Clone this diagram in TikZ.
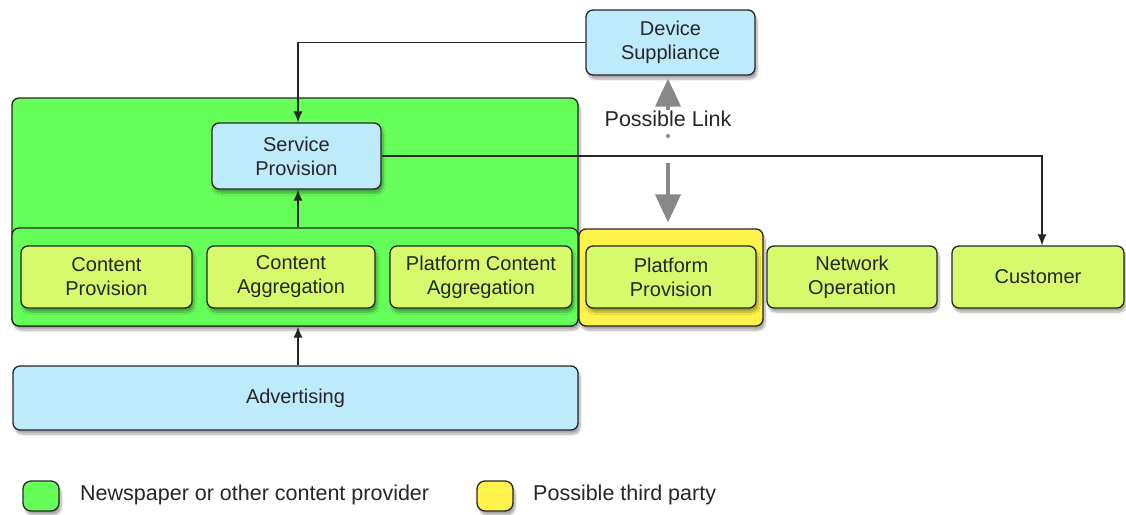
\documentclass[tikz,border=0pt]{standalone}
\usepackage{fontspec}
\setmainfont{Liberation Sans}
\usetikzlibrary{arrows.meta,shadows.blur}
\definecolor{provgreen}{HTML}{66FF5A}
\definecolor{boxgreen}{HTML}{D7F96C}
\definecolor{boxblue}{HTML}{BEEBFB}
\definecolor{thirdyellow}{HTML}{FFF24A}
\definecolor{linkgray}{HTML}{888888}
\tikzset{
  shadowed/.style={blur shadow={shadow xshift=2pt, shadow yshift=-4pt, shadow blur steps=8, shadow opacity=35}},
  base/.style={draw=black!85, line width=1.3pt, rounded corners=7pt, inner sep=0pt, align=center,
               font=\fontsize{20}{24}\selectfont, text=black!85},
  role/.style={base, shadowed, fill=boxgreen},
  service/.style={base, shadowed, fill=boxblue},
  provider/.style={base, shadowed, fill=provgreen},
  strip/.style={base, fill=provgreen},
  third/.style={base, shadowed, fill=thirdyellow},
  legendbox/.style={base, shadowed, rounded corners=8pt},
  legendtext/.style={anchor=west, inner sep=0pt, font=\fontsize{21.5}{24}\selectfont, text=black!85},
  conn/.style={draw=black!85, line width=1.2pt, -{Latex[length=11pt,width=9pt]}},
  linkarrow/.style={draw=linkgray, line width=4pt, -{Triangle[length=28pt,width=25pt]}},
}
\begin{document}
\begin{tikzpicture}[x=1pt,y=-1pt]
\useasboundingbox (0,0) rectangle (1126,514);
% containers
\node[provider, minimum width=566pt, minimum height=228pt] (prov) at (295,212) {};
\node[strip, minimum width=566pt, minimum height=98pt] (stripbox) at (295,277) {};
\node[third, minimum width=184pt, minimum height=97pt] (thirdbox) at (671,277.5) {};
% boxes
\node[role, minimum width=171pt, minimum height=62pt] (cp) at (106.5,277) {Content\\Provision};
\node[role, minimum width=168pt, minimum height=62pt] (ca) at (291,277) {Content\\Aggregation};
\node[role, minimum width=182pt, minimum height=62pt] (pca) at (481,277) {Platform Content\\Aggregation};
\node[role, minimum width=170pt, minimum height=62pt] (pp) at (671,277) {Platform\\Provision};
\node[role, minimum width=170pt, minimum height=62pt] (no) at (852,277) {Network\\Operation};
\node[role, minimum width=172pt, minimum height=62pt] (cust) at (1038,277) {Customer};
\node[service, minimum width=169pt, minimum height=66pt] (sp) at (296.5,156) {Service\\Provision};
\node[service, minimum width=169pt, minimum height=65pt] (dev) at (670.5,42.5) {Device\\Suppliance};
\node[service, minimum width=565pt, minimum height=64pt] (adv) at (295.5,398) {Advertising};
% possible link
\node[font=\fontsize{21.5}{24}\selectfont, text=black!85, inner sep=0pt] (lbl) at (668,119) {Possible Link};
\coordinate (linkdot) at (668,136);
\coordinate (linkstart) at (668,163);
\fill[linkgray] (linkdot) circle (2pt);
\draw[linkarrow] ([yshift=1pt]lbl.north) -- ([yshift=-3pt]dev.south -| lbl.north);
\draw[linkarrow] (linkstart) -- ([yshift=6pt]linkstart |- thirdbox.north);
% connectors
\draw[conn] (dev.west) -| ([xshift=1.5pt]sp.north);
\draw[conn] (sp.east) -| ([xshift=4pt]cust.north);
\draw[conn] ([xshift=1.5pt]stripbox.north -| sp.south) -- ([xshift=1.5pt]sp.south);
\draw[conn] ([xshift=2.5pt]adv.north) -- ([xshift=2.5pt]adv.north |- prov.south);
% legend
\node[legendbox, fill=provgreen, minimum width=36pt, minimum height=30pt] (lg) at (41,496) {};
\node[legendtext] (lgt) at (80,495) {Newspaper or other content provider};
\node[legendbox, fill=thirdyellow, minimum width=36pt, minimum height=30pt] (ly) at (495,496) {};
\node[legendtext] (lyt) at (533,495) {Possible third party};
\end{tikzpicture}
\end{document}
